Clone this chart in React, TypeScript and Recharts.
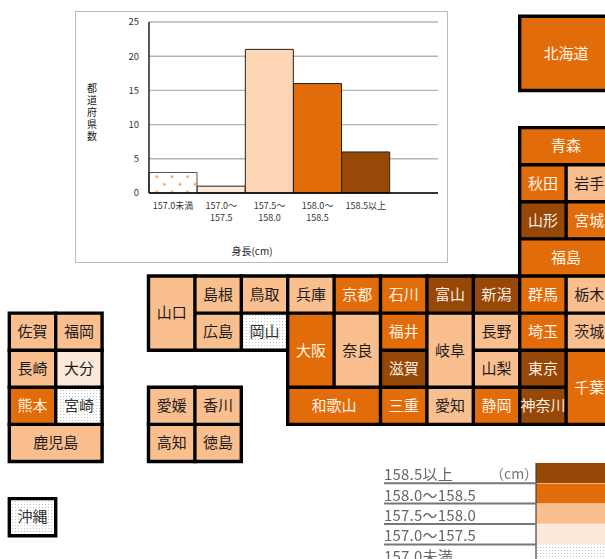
import type { JSX } from "react";
import {
  BarChart,
  Bar,
  Cell,
  CartesianGrid,
  ComposedChart,
  ReferenceArea,
  XAxis,
  YAxis,
} from "recharts";

const FONT = '"Noto Sans CJK JP", "Noto Sans", sans-serif';

// histogram
const classLabels = ["157.0未満", "157.0～\n157.5", "157.5～\n158.0", "158.0～\n158.5", "158.5以上", ""];
const classCounts = [3, 1, 21, 16, 6, null];
const classFills = ["url(#barDots)", "#FDEADA", "#FCD5B5", "#E36C0A", "#984807", "none"];
const classStrokes = ["#555", "#222", "#222", "#222", "#222", "none"];
const countTicks = [0, 5, 10, 15, 20, 25];

// map, in grid units of the tile layout
const prefNames = [
  "北海道", "青森", "秋田", "岩手", "山形", "宮城", "福島",
  "山口", "島根", "鳥取", "兵庫", "京都", "石川", "富山", "新潟", "群馬", "栃木",
  "広島", "岡山", "大阪", "奈良", "福井", "岐阜", "長野", "埼玉", "茨城",
  "滋賀", "山梨", "東京", "千葉",
  "和歌山", "三重", "愛知", "静岡", "神奈川",
  "佐賀", "福岡", "長崎", "大分", "熊本", "宮崎", "鹿児島",
  "愛媛", "香川", "高知", "徳島", "沖縄",
];
const prefBands = [
  3, 3, 3, 2, 4, 3, 3,
  2, 2, 2, 2, 3, 3, 4, 4, 3, 2,
  2, 0, 3, 2, 3, 2, 2, 3, 2,
  4, 2, 4, 3,
  3, 3, 2, 3, 4,
  2, 2, 2, 1, 3, 0, 2,
  2, 2, 2, 2, 0,
];
const prefCols = [
  11, 11, 11, 12, 11, 12, 11,
  3, 4, 5, 6, 7, 8, 9, 10, 11, 12,
  4, 5, 6, 7, 8, 9, 10, 11, 12,
  8, 10, 11, 12,
  6, 8, 9, 10, 11,
  0, 1, 0, 1, 0, 1, 0,
  3, 4, 3, 4, 0,
];
const prefRows = [
  0, 3, 4, 4, 5, 5, 6,
  7, 7, 7, 7, 7, 7, 7, 7, 7, 7,
  8, 8, 8, 8, 8, 8, 8, 8, 8,
  9, 9, 9, 9,
  10, 10, 10, 10, 10,
  8, 8, 9, 9, 10, 10, 11,
  10, 10, 11, 11, 13,
];
const prefColSpans = [
  2, 2, 1, 1, 1, 1, 2,
  1, 1, 1, 1, 1, 1, 1, 1, 1, 1,
  1, 1, 1, 1, 1, 1, 1, 1, 1,
  1, 1, 1, 1,
  2, 1, 1, 1, 1,
  1, 1, 1, 1, 1, 1, 2,
  1, 1, 1, 1, 1,
];
const prefRowSpans = [
  2, 1, 1, 1, 1, 1, 1,
  2, 1, 1, 1, 1, 1, 1, 1, 1, 1,
  1, 1, 2, 2, 1, 2, 1, 1, 1,
  1, 1, 1, 2,
  1, 1, 1, 1, 1,
  1, 1, 1, 1, 1, 1, 1,
  1, 1, 1, 1, 1,
];
const bandFills = ["url(#mapDots)", "#FDE9D9", "#FABF8F", "#E36C0A", "#974806"];
const bandText = ["#333", "#1c1c1c", "#1c1c1c", "#fff4e8", "#f7eee4"];

// legend table
const legendLabels = ["158.5以上", "158.0～158.5", "157.5～158.0", "157.0～157.5", "157.0未満"];
const legendBands = [4, 3, 2, 1, 0];

const histogramData = classLabels.map((label, i) => ({ label, count: classCounts[i] }));
const legendData = legendLabels.map((label, i) => ({ label, full: 1, band: legendBands[i] }));
const prefData = prefNames.map((name, i) => ({ name, col: prefCols[i], row: prefRows[i] }));

const COL_GAP = 3.4 / 46.4;
const ROW_GAP = 3.4 / 37.1;

const ClassTick = ({ x, y, payload }: any): JSX.Element => (
  <text x={x} y={y} fontSize={9} fontFamily={FONT} fill="#333" textAnchor="middle">
    {String(payload.value)
      .split("\n")
      .map((line, i) => (
        <tspan key={i} x={x} dy={i === 0 ? 8 : 12}>
          {line}
        </tspan>
      ))}
  </text>
);

const LegendTick = ({ y, payload }: any): JSX.Element => (
  <g>
    <text x={0} y={y + 7} fontSize={15} fontFamily={FONT} fill="#666" letterSpacing={0.2}>
      {payload.value}
    </text>
    <line x1={0} x2={152} y1={y + 10} y2={y + 10} stroke="#777" strokeWidth={2} />
  </g>
);

const App = (): JSX.Element => {
  return (
    <div style={{ position: "absolute", left: 0, top: 0, width: 605, height: 559, overflow: "hidden", background: "#fff" }}>
      <div style={{ position: "absolute", left: 0, top: 0 }}>
        <ComposedChart width={605} height={559} margin={{ top: 0, right: 0, bottom: 0, left: 0 }} data={prefData}>
          <defs>
            <pattern id="mapDots" width={3} height={3} patternUnits="userSpaceOnUse">
              <rect width={3} height={3} fill="#fff" />
              <rect width={1} height={1} fill="#c4c4c4" />
            </pattern>
          </defs>
          <XAxis dataKey="col" type="number" hide height={0} domain={[-7.6 / 46.4, 597.4 / 46.4]} allowDataOverflow />
          <YAxis dataKey="row" type="number" hide reversed width={0} domain={[-14.6 / 37.1, 544.4 / 37.1]} allowDataOverflow />
          {prefNames.map((name, i) => (
            <ReferenceArea
              key={`frame-${name}`}
              x1={prefCols[i]}
              x2={prefCols[i] + prefColSpans[i] + COL_GAP}
              y1={prefRows[i]}
              y2={prefRows[i] + prefRowSpans[i] + ROW_GAP}
              fill="#000"
              fillOpacity={1}
              stroke="none"
              ifOverflow="visible"
            />
          ))}
          {prefNames.map((name, i) => (
            <ReferenceArea
              key={name}
              x1={prefCols[i] + COL_GAP}
              x2={prefCols[i] + prefColSpans[i]}
              y1={prefRows[i] + ROW_GAP}
              y2={prefRows[i] + prefRowSpans[i]}
              fill={bandFills[prefBands[i]]}
              fillOpacity={1}
              stroke="none"
              ifOverflow="visible"
              label={{
                value: name,
                position: "center",
                fill: bandText[prefBands[i]],
                fontSize: 15,
                fontFamily: FONT,
              }}
            />
          ))}
        </ComposedChart>
      </div>

      <div style={{ position: "absolute", left: 75, top: 11, width: 373, height: 252, boxSizing: "border-box", border: "1px solid #bbb", background: "#fff" }} />
      <div style={{ position: "absolute", left: 75, top: 11 }}>
        <BarChart
          width={373}
          height={252}
          data={histogramData}
          barCategoryGap={0}
          margin={{ top: 11, right: 10, bottom: 0, left: 0 }}
        >
          <defs>
            <pattern id="barDots" x={77.9} y={161.9} width={15.4} height={15.4} patternUnits="userSpaceOnUse">
              <rect width={15.4} height={15.4} fill="#fff" />
              <circle cx={3.8} cy={3.8} r={1.3} fill="#F79646" />
              <circle cx={11.5} cy={11.5} r={1.3} fill="#F79646" />
            </pattern>
          </defs>
          <CartesianGrid vertical={false} stroke="#b4b4b4" strokeWidth={1.4} />
          <XAxis
            dataKey="label"
            interval={0}
            height={70}
            tick={ClassTick}
            tickLine={false}
            axisLine={{ stroke: "#000", strokeWidth: 1.3 }}
          />
          <YAxis
            width={74}
            domain={[0, 25]}
            ticks={countTicks}
            tickLine={false}
            tickSize={0}
            tickMargin={10}
            tick={{ fontSize: 9.5, fill: "#333", fontFamily: FONT }}
            axisLine={{ stroke: "#000", strokeWidth: 1.3 }}
          />
          <Bar dataKey="count" isAnimationActive={false}>
            {histogramData.map((d, i) => (
              <Cell key={d.label || "blank"} fill={classFills[i]} stroke={classStrokes[i]} strokeWidth={1} />
            ))}
          </Bar>
          <text x={17} y={81} fontSize={10} fontFamily={FONT} fill="#222" textAnchor="middle">
            {"都道府県数".split("").map((ch, i) => (
              <tspan key={ch} x={17} dy={i === 0 ? 0 : 12}>
                {ch}
              </tspan>
            ))}
          </text>
          <text x={177} y={244} fontSize={10} fontFamily={FONT} fill="#222" textAnchor="middle">
            身長(cm)
          </text>
        </BarChart>
      </div>

      <div style={{ position: "absolute", left: 384, top: 463, filter: "blur(0.6px)" }}>
        <BarChart
          layout="vertical"
          width={221}
          height={102}
          data={legendData}
          barCategoryGap={0}
          margin={{ top: 0, right: 0, bottom: 0, left: 0 }}
        >
          <XAxis type="number" hide domain={[0, 1]} />
          <YAxis
            type="category"
            dataKey="label"
            width={152}
            interval={0}
            tick={LegendTick}
            tickLine={false}
            axisLine={{ stroke: "#444", strokeWidth: 1.2 }}
          />
          <Bar dataKey="full" isAnimationActive={false}>
            {legendData.map((d) => (
              <Cell key={d.label} fill={bandFills[d.band]} />
            ))}
          </Bar>
          <text x={106} y={16} fontSize={14} fontFamily={FONT} fill="#777">
            （cm）
          </text>
        </BarChart>
      </div>
    </div>
  );
};

export default App;
